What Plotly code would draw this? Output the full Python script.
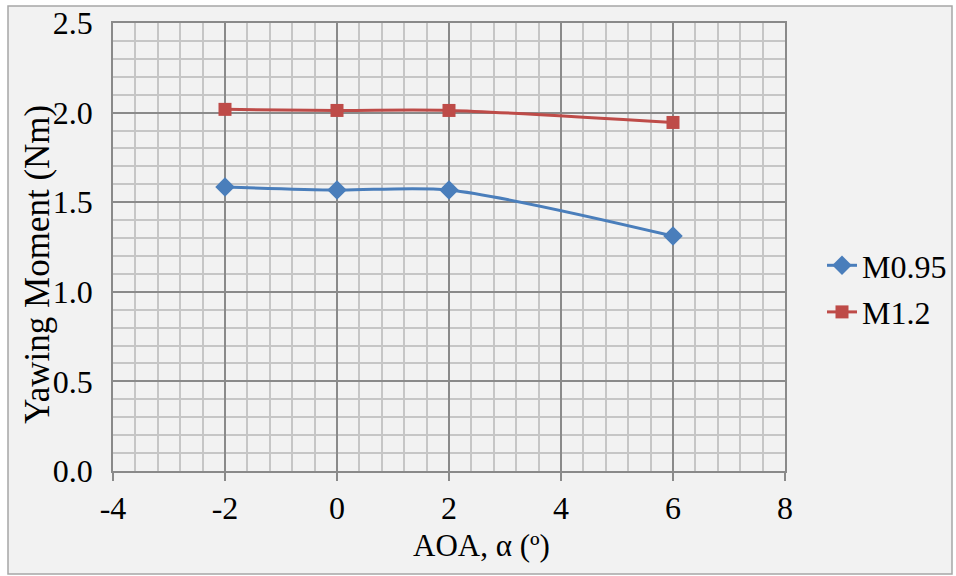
import plotly.graph_objects as go

aoa = [-2, 0, 2, 6]
m095 = [1.585, 1.568, 1.568, 1.311]
m12 = [2.018, 2.012, 2.012, 1.945]
x_ticks = [-4, -2, 0, 2, 4, 6, 8]
y_ticks = [0.0, 0.5, 1.0, 1.5, 2.0, 2.5]

W, H = 956, 576
L, R, T, B = 113, 785, 23, 471
FONT = "Liberation Serif, Times New Roman, serif"
BLUE = "#4a7ebb"
RED = "#be4b48"
MAJ = "#8a8a8a"
MIN = "#c6c6c6"
BG = "#f2f2f2"

fig = go.Figure()
fig.add_trace(go.Scatter(x=aoa, y=m095, name="M0.95", mode="lines+markers",
                         line=dict(color=BLUE, width=3, shape="spline", smoothing=0.8),
                         marker=dict(symbol="diamond", size=15, color=BLUE),
                         legendgroup="a"))
fig.add_trace(go.Scatter(x=aoa, y=m12, name="M1.2", mode="lines+markers",
                         line=dict(color=RED, width=3, shape="spline", smoothing=0.8),
                         marker=dict(symbol="square", size=13, color=RED),
                         legendgroup="b"))

pw = R - L
ph = B - T
def px2x(p):
    return (p - L) / pw
def py2y(p):
    return (B - p) / ph

fig.add_shape(type="rect", xref="paper", yref="paper",
              x0=px2x(8), x1=px2x(952), y0=py2y(574), y1=py2y(6),
              line=dict(color="#a6a6a6", width=1.5), fillcolor=BG, layer="below")

fig.update_layout(
    width=W, height=H,
    margin=dict(l=L, r=W - R, t=T, b=H - B, autoexpand=False),
    paper_bgcolor="white", plot_bgcolor=BG,
    font=dict(family=FONT, size=32, color="black"),
    showlegend=True,
    legend=dict(x=px2x(822), y=py2y(238), xanchor="left", yanchor="top",
                bgcolor="rgba(0,0,0,0)", font=dict(size=32, family=FONT),
                tracegroupgap=2, itemwidth=30),
    xaxis=dict(range=[-4, 8], tickvals=x_ticks, ticktext=[str(v) for v in x_ticks],
               showgrid=True, gridcolor=MAJ, gridwidth=1.5,
               minor=dict(dtick=0.4, showgrid=True, gridcolor=MIN, gridwidth=1.5),
               ticks="outside", ticklen=8, tickcolor=MAJ, tickwidth=1.5,
               showline=True, mirror=True, linecolor=MAJ, linewidth=1.5,
               zeroline=False, tickfont=dict(size=32), fixedrange=True),
    yaxis=dict(range=[0, 2.5], tickvals=y_ticks, ticktext=["%.1f" % v for v in y_ticks],
               showgrid=True, gridcolor=MAJ, gridwidth=1.5,
               minor=dict(dtick=0.1, showgrid=True, gridcolor=MIN, gridwidth=1.5),
               ticks="", ticklabelstandoff=12,
               showline=True, mirror=True, linecolor=MAJ, linewidth=1.5,
               zeroline=False, tickfont=dict(size=32), fixedrange=True),
    annotations=[
        dict(text="AOA, α (º)", xref="paper", yref="paper", x=px2x(481), y=py2y(545),
             showarrow=False, xanchor="center", yanchor="middle", font=dict(size=31)),
        dict(text="Yawing Moment (Nm)", xref="paper", yref="paper", x=px2x(37), y=py2y(265),
             showarrow=False, xanchor="center", yanchor="middle", textangle=-90,
             font=dict(size=35)),
    ],
)

fig.write_html("out.html")
